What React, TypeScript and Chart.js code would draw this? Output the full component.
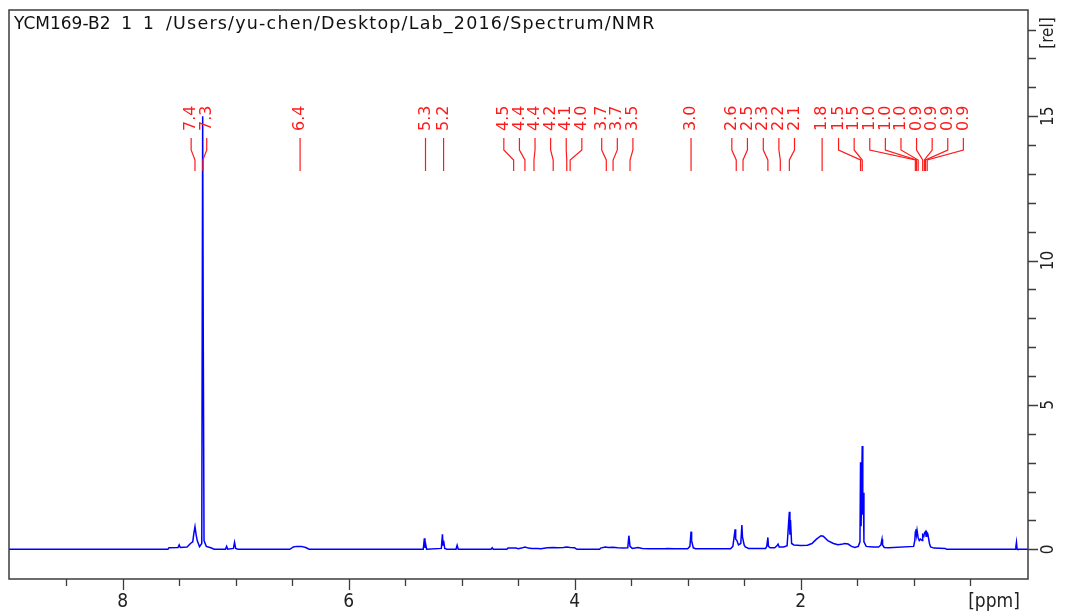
import React, { useEffect, useRef } from "react";
import { Chart, registerables } from "chart.js";

Chart.register(...registerables);

const titleId = "YCM169-B2  1  1";
const titlePath = "/Users/yu-chen/Desktop/Lab_2016/Spectrum/NMR";
const xUnit = "[ppm]";
const yUnit = "[rel]";

// spectrum trace (chemical shift, ppm) -> relative intensity
const shiftPpm = [
  9.006, 7.6, 7.59, 7.51, 7.5, 7.49, 7.43, 7.4, 7.38, 7.37, 7.36, 7.35, 7.34, 7.32, 7.3, 7.292, 7.287, 7.28, 7.26, 7.22,
  7.19, 7.09, 7.08, 7.07, 7.02, 7.01, 7.0, 6.98, 6.52, 6.49, 6.46, 6.42, 6.38, 6.35, 5.34, 5.33, 5.325, 5.32, 5.31,
  5.18, 5.17, 5.165, 5.16, 5.15, 5.13, 5.05, 5.04, 5.03, 4.74, 4.73, 4.72, 4.6, 4.59, 4.52, 4.5, 4.47, 4.44, 4.41,
  4.38, 4.33, 4.3, 4.24, 4.19, 4.15, 4.1, 4.07, 4.04, 4.0, 3.98, 3.78, 3.77, 3.73, 3.7, 3.66, 3.62, 3.57, 3.53, 3.52,
  3.51, 3.49, 3.44, 3.4, 3.34, 3.2, 3.18, 3.12, 3.0, 2.98, 2.97, 2.965, 2.95, 2.93, 2.62, 2.6, 2.58, 2.575, 2.565,
  2.55, 2.53, 2.52, 2.515, 2.5, 2.49, 2.46, 2.31, 2.3, 2.29, 2.285, 2.27, 2.23, 2.21, 2.2, 2.19, 2.15, 2.12, 2.1,
  2.095, 2.09, 2.08, 2.06, 2.0, 1.94, 1.9, 1.86, 1.82, 1.8, 1.76, 1.71, 1.67, 1.64, 1.61, 1.58, 1.55, 1.52, 1.49,
  1.475, 1.47, 1.465, 1.455, 1.45, 1.445, 1.44, 1.42, 1.36, 1.31, 1.29, 1.28, 1.275, 1.26, 1.22, 1.0, 0.99, 0.985,
  0.98, 0.975, 0.97, 0.96, 0.95, 0.94, 0.925, 0.92, 0.91, 0.905, 0.895, 0.89, 0.885, 0.875, 0.86, 0.85, 0.82, 0.72,
  0.71, 0.1, 0.095, 0.09, 0.085, 0.08, -0.012,
];
const intensity = [
  0, 0, 0.05, 0.06, 0.15, 0.06, 0.08, 0.2, 0.26, 0.55, 0.78, 0.5, 0.3, 0.09, 0.2, 15.0, 7.6, 0.3, 0.1, 0.05,
  0, 0, 0.1, 0, 0.03, 0.24, 0.03, 0, 0, 0.08, 0.1, 0.1, 0.06, 0, 0, 0.38, 0.05, 0.2, 0,
  0.03, 0.52, 0.15, 0.3, 0.03, 0, 0, 0.14, 0, 0, 0.05, 0, 0, 0.04, 0.04, 0.02, 0.04, 0.08, 0.04,
  0.03, 0.03, 0.02, 0.05, 0.06, 0.05, 0.06, 0.08, 0.06, 0.05, 0, 0, 0.04, 0.08, 0.06, 0.07, 0.05, 0.04, 0.05, 0.47,
  0.1, 0.03, 0.06, 0.03, 0.02, 0.02, 0.03, 0.02, 0.02, 0.1, 0.61, 0.3, 0.05, 0.02, 0.02, 0.1, 0.69, 0.35, 0.31,
  0.15, 0.2, 0.84, 0.43, 0.15, 0.08, 0.03, 0.03, 0.1, 0.41, 0.1, 0.05, 0.05, 0.12, 0.18, 0.08, 0.08, 0.12, 1.3,
  0.5, 1.01, 0.2, 0.15, 0.13, 0.14, 0.2, 0.35, 0.47, 0.45, 0.3, 0.2, 0.16, 0.17, 0.2, 0.18, 0.1, 0.06, 0.1,
  0.26, 3.01, 0.8, 3.58, 1.2, 1.96, 0.26, 0.1, 0.08, 0.08, 0.15, 0.35, 0.15, 0.06, 0.05, 0.1, 0.3, 0.6,
  0.69, 0.5, 0.66, 0.4, 0.3, 0.35, 0.3, 0.5, 0.45, 0.56, 0.61, 0.45, 0.6, 0.54, 0.2, 0.08, 0.04, 0.03,
  0, 0, 0.1, 0.24, 0.02, 0, 0,
];

// picked peaks
const peakPpm = [
  7.36, 7.29, 6.43, 5.32, 5.16, 4.54, 4.44, 4.36, 4.19, 4.07, 4.04, 3.72, 3.66, 3.51, 2.97, 2.57, 2.51, 2.29, 2.18,
  2.1, 1.81, 1.47, 1.455, 0.985, 0.975, 0.96, 0.92, 0.905, 0.895, 0.88,
];
const peakLabels = [
  "7.4", "7.3", "6.4", "5.3", "5.2", "4.5", "4.4", "4.4", "4.2", "4.1", "4.0", "3.7", "3.7", "3.5", "3.0", "2.6", "2.5",
  "2.3", "2.2", "2.1", "1.8", "1.5", "1.5", "1.0", "1.0", "1.0", "0.9", "0.9", "0.9", "0.9",
];

// axes
const xMajorTicks = [8, 6, 4, 2];
const xMinorTicks = [8.5, 7.5, 7, 6.5, 5.5, 5, 4.5, 3.5, 3, 2.5, 1.5, 1, 0.5];
const yMajorTicks = [0, 5, 10, 15];
const yMinorTicks = [1, 2, 3, 4, 6, 7, 8, 9, 11, 12, 13, 14, 16, 17, 18];

const AXIS_COLOR = "#3c3c3c";
const PEAK_COLOR = "#ff1a1a";
const CONDENSED = "'DejaVu Sans Condensed', 'DejaVu Sans', sans-serif";

// spread overlapping peak labels into evenly spaced clusters
function spreadLabels(xs: number[], gap: number): number[] {
  const center = (s: number, e: number) => {
    let sum = 0;
    for (let k = s; k <= e; k++) sum += xs[k];
    const mean = sum / (e - s + 1);
    const mid = (xs[s] + xs[e]) / 2;
    return (mean + mid) / 2;
  };
  const clusters = xs.map((_, i) => ({ start: i, end: i }));
  let changed = true;
  while (changed) {
    changed = false;
    for (let i = 0; i < clusters.length - 1; i++) {
      const a = clusters[i];
      const b = clusters[i + 1];
      const na = a.end - a.start + 1;
      const nb = b.end - b.start + 1;
      const aRight = center(a.start, a.end) + ((na - 1) / 2) * gap;
      const bLeft = center(b.start, b.end) - ((nb - 1) / 2) * gap;
      if (bLeft - aRight < gap) {
        clusters.splice(i, 2, { start: a.start, end: b.end });
        changed = true;
        break;
      }
    }
  }
  const out: number[] = new Array(xs.length);
  clusters.forEach((c) => {
    const n = c.end - c.start + 1;
    const first = center(c.start, c.end) - ((n - 1) / 2) * gap;
    for (let k = 0; k < n; k++) out[c.start + k] = first + k * gap;
  });
  return out;
}

const decorPlugin = {
  id: "nmrDecor",
  afterDatasetsDraw(chart: any) {
    const { ctx, chartArea: a, scales } = chart;
    const xs = scales.x;
    const ys = scales.y;
    ctx.save();

    // title inside frame
    ctx.fillStyle = "#111";
    ctx.font = "17px 'DejaVu Sans', sans-serif";
    ctx.textAlign = "left";
    ctx.textBaseline = "alphabetic";
    ctx.fillText(titleId, a.left + 5, a.top + 19);
    ctx.save();
    ctx.font = "17.5px 'DejaVu Sans', sans-serif";
    (ctx as any).letterSpacing = "1.2px";
    ctx.fillText(titlePath, a.left + 157, a.top + 19);
    ctx.restore();

    // frame
    ctx.strokeStyle = AXIS_COLOR;
    ctx.lineWidth = 1.5;
    ctx.strokeRect(a.left, a.top, a.right - a.left, a.bottom - a.top);

    // x ticks
    ctx.lineWidth = 1.3;
    ctx.beginPath();
    xMajorTicks.forEach((v) => {
      const px = Math.round(xs.getPixelForValue(v)) + 0.5;
      ctx.moveTo(px, a.bottom);
      ctx.lineTo(px, a.bottom + 11);
    });
    xMinorTicks.forEach((v) => {
      const px = Math.round(xs.getPixelForValue(v)) + 0.5;
      ctx.moveTo(px, a.bottom);
      ctx.lineTo(px, a.bottom + 7);
    });
    // y ticks (right side)
    yMajorTicks.forEach((v) => {
      const py = Math.round(ys.getPixelForValue(v)) + 0.5;
      ctx.moveTo(a.right, py);
      ctx.lineTo(a.right + 10, py);
    });
    yMinorTicks.forEach((v) => {
      const py = Math.round(ys.getPixelForValue(v)) + 0.5;
      ctx.moveTo(a.right, py);
      ctx.lineTo(a.right + 8, py);
    });
    ctx.stroke();

    // x labels
    ctx.fillStyle = "#222";
    ctx.font = `19px ${CONDENSED}`;
    ctx.textAlign = "center";
    ctx.textBaseline = "alphabetic";
    xMajorTicks.forEach((v) => {
      ctx.fillText(String(v), xs.getPixelForValue(v), a.bottom + 28);
    });
    ctx.textAlign = "left";
    ctx.fillText(xUnit, xs.getPixelForValue(xMinorTicks[xMinorTicks.length - 1]) - 2, a.bottom + 28);

    // y labels (rotated)
    ctx.font = `17px ${CONDENSED}`;
    yMajorTicks.forEach((v) => {
      ctx.save();
      ctx.translate(a.right + 21, ys.getPixelForValue(v));
      ctx.rotate(-Math.PI / 2);
      ctx.textAlign = "center";
      ctx.textBaseline = "middle";
      ctx.fillText(String(v), 0, 0);
      ctx.restore();
    });
    ctx.save();
    ctx.translate(a.right + 21, a.top + 23);
    ctx.rotate(-Math.PI / 2);
    ctx.textAlign = "center";
    ctx.textBaseline = "middle";
    ctx.fillText(yUnit, 0, 0);
    ctx.restore();

    // peak labels
    const peakPx = peakPpm.map((p) => xs.getPixelForValue(p));
    const labelPx = spreadLabels(peakPx, 15.6);
    const textBottom = a.top + 121;
    const y1 = a.top + 128;
    const y2 = a.top + 140;
    const y3 = a.top + 150;
    const y4 = a.top + 161;
    ctx.strokeStyle = PEAK_COLOR;
    ctx.fillStyle = PEAK_COLOR;
    ctx.lineWidth = 1.2;
    ctx.font = "16px 'DejaVu Sans', sans-serif";
    peakLabels.forEach((lab, i) => {
      const lx = labelPx[i];
      const px = peakPx[i];
      ctx.beginPath();
      ctx.moveTo(lx, y1);
      ctx.lineTo(lx, y2);
      ctx.lineTo(px, y3);
      ctx.lineTo(px, y4);
      ctx.stroke();
      ctx.save();
      ctx.translate(lx, textBottom);
      ctx.rotate(-Math.PI / 2);
      ctx.textAlign = "left";
      ctx.textBaseline = "middle";
      ctx.fillText(lab, 0, 0);
      ctx.restore();
    });

    ctx.restore();
  },
};

export default function App() {
  const ref = useRef<HTMLCanvasElement>(null);
  useEffect(() => {
    const canvas = ref.current;
    if (!canvas) return;
    const chart = new Chart(canvas, {
      type: "line",
      data: {
        datasets: [
          {
            data: shiftPpm.map((p, i) => ({ x: p, y: intensity[i] })),
            borderColor: "#0000ff",
            borderWidth: 1.5,
            pointRadius: 0,
            tension: 0,
            fill: false,
          },
        ],
      },
      options: {
        responsive: false,
        animation: false,
        devicePixelRatio: 1,
        events: [],
        layout: { padding: { left: 9, top: 10, right: 38, bottom: 36 } },
        scales: {
          x: { type: "linear", reverse: true, min: -0.012, max: 9.006, display: false },
          y: { type: "linear", min: -1.03, max: 18.68, display: false },
        },
        plugins: { legend: { display: false }, tooltip: { enabled: false } },
      },
      plugins: [decorPlugin],
    } as any);
    return () => chart.destroy();
  }, []);
  return (
    <div style={{ position: "fixed", left: 0, top: 0, width: 1066, height: 615, background: "#fff" }}>
      <canvas ref={ref} width={1066} height={615} style={{ display: "block" }} />
    </div>
  );
}
